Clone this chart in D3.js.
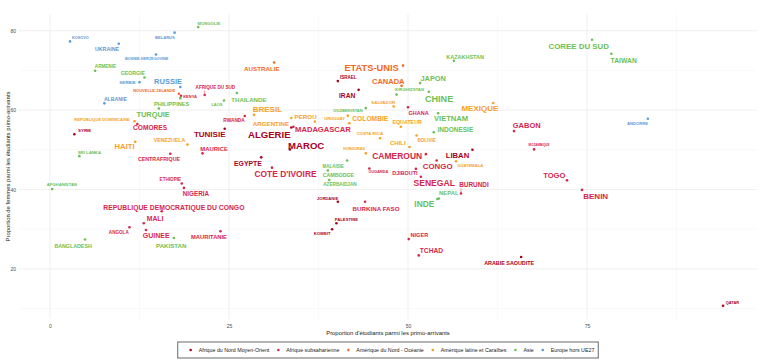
<!DOCTYPE html>
<html>
<head>
<meta charset="utf-8">
<script src="https://cdn.jsdelivr.net/npm/d3@7"></script>
<style>
  html, body { margin: 0; padding: 0; background: #fff; }
  svg { display: block; font-family: "Liberation Sans", Arial, sans-serif; }
</style>
</head>
<body>
<svg id="chart" width="760" height="361"></svg>
<script>
// ---------------- DATA ----------------
const regionNames = ["Afrique du Nord Moyen-Orient", "Afrique subsaharienne", "Amérique du Nord - Océanie",
                     "Amérique latine et Caraïbes", "Asie", "Europe hors UE27"];
const regionCodes = ["NMO", "SS", "AN", "AL", "AS", "EU"];

const countries = ["KOSOVO","UKRAINE","BELARUS","BOSNIE-HERZEGOVINE","ARMENIE","GEORGIE","SERBIE","RUSSIE",
  "NOUVELLE-ZELANDE","KENYA","PHILIPPINES","TURQUIE","ALBANIE","MONGOLIE","REPUBLIQUE DOMINICAINE","COMORES",
  "AFRIQUE DU SUD","THAILANDE","LAOS","AUSTRALIE","ISRAEL","IRAN","BRESIL","RWANDA","ARGENTINE","PEROU",
  "OUZBEKISTAN","URUGUAY","MADAGASCAR","COLOMBIE","ETATS-UNIS","CANADA","KAZAKHSTAN","JAPON","KIRGHIZSTAN",
  "CHINE","SALVADOR","GHANA","MEXIQUE","VIETNAM","EQUATEUR","INDONESIE","GABON","COREE DU SUD","TAIWAN",
  "ANDORRE","MOZAMBIQUE","TOGO","BENIN","QATAR","SYRIE","HAITI","VENEZUELA","SRI LANKA","CENTRAFRIQUE",
  "ETHIOPIE","NIGERIA","AFGHANISTAN","REPUBLIQUE DEMOCRATIQUE DU CONGO","MALI","ANGOLA","GUINEE","BANGLADESH",
  "PAKISTAN","MAURITANIE","TUNISIE","ALGERIE","MAROC","MAURICE","EGYPTE","COTE D'IVOIRE","HONDURAS","MALAISIE",
  "CAMBODGE","AZERBAIDJAN","JORDANIE","BURKINA FASO","PALESTINE","KOWEIT","OUGANDA","COSTA RICA","CHILI",
  "BOLIVIE","CAMEROUN","LIBAN","GUATEMALA","CONGO","DJIBOUTI","SENEGAL","BURUNDI","NEPAL","INDE","NIGER",
  "TCHAD","ARABIE SAOUDITE"];

const regions = ["EU","EU","EU","EU","AS","AS","EU","EU",
  "AN","SS","AS","AS","EU","AS","AL","SS",
  "SS","AS","AS","AN","NMO","NMO","AL","SS","AL","AL",
  "AS","AL","SS","AL","AN","AN","AS","AS","AS",
  "AS","AL","SS","AL","AS","AL","AS","SS","AS","AS",
  "EU","SS","SS","SS","NMO","NMO","AL","AL","AS","SS",
  "SS","SS","AS","SS","SS","SS","SS","AS",
  "AS","SS","NMO","NMO","NMO","SS","NMO","SS","AL","AS",
  "AS","AS","NMO","SS","NMO","NMO","SS","AL","AL",
  "AL","SS","NMO","AL","SS","SS","SS","SS","AS","AS","SS",
  "SS","NMO"];

// Proportion d'étudiants parmi les primo-arrivants (%)
const pctEtudiants = [2.8,9.6,17.4,14.8,6.3,13.2,12.5,18.2,
  18.0,18.3,18.2,15.2,7.6,20.7,11.8,12.2,
  21.6,26.1,24.3,31.3,40.2,43.1,28.5,27.2,33.7,37.0,
  44.1,41.6,34.0,41.8,49.3,49.1,56.4,51.7,48.4,
  52.9,48.0,50.0,61.9,54.2,49.0,53.6,64.8,75.7,78.4,
  83.5,67.6,72.2,74.3,94.0,3.4,11.9,19.2,4.1,16.8,
  18.4,18.7,0.3,15.6,13.1,11.1,13.4,4.9,
  17.3,23.8,24.4,33.7,33.5,21.3,29.5,31.0,44.1,41.5,
  38.8,39.0,40.2,44.0,40.0,39.4,44.6,46.1,50.2,
  51.2,52.5,59.0,56.7,54.0,51.1,51.8,57.4,54.3,54.1,50.1,
  51.5,65.8];

// Proportion de femmes parmi les étudiants primo-arrivants (%)
const pctFemmes = [77.3,76.7,79.5,74.0,69.9,68.2,67.0,65.8,
  64.1,63.6,63.0,60.4,61.7,80.9,57.2,56.5,
  63.8,64.3,62.4,72.0,67.3,65.1,58.8,58.5,58.0,57.1,
  60.5,58.6,55.8,56.7,71.2,66.1,72.4,66.8,63.9,
  64.6,60.9,60.7,61.8,59.2,55.8,54.4,54.7,77.7,74.2,
  57.8,50.1,42.3,39.9,10.7,53.9,52.0,51.3,48.4,49.0,
  41.5,40.4,40.1,34.5,31.5,30.5,29.8,27.4,
  27.8,29.5,55.3,55.6,50.1,49.1,48.1,45.5,49.1,47.3,
  44.8,42.4,36.9,36.9,31.5,30.0,45.3,52.9,50.7,
  53.6,48.9,50.0,47.1,47.3,45.2,43.2,39.0,37.7,37.6,27.5,
  23.4,23.0];

// Nombre d'étudiants primo-arrivants (estimé d'après la taille des étiquettes)
const effectifs = [1800,3300,2100,1800,2600,3200,2400,5500,
  2000,2000,3700,5400,3200,2200,2100,4600,
  2600,4100,2000,4200,2500,4700,6000,2800,4200,4200,
  2150,2200,5600,4700,7300,5500,3500,5400,2300,
  7100,2400,3500,6000,5600,3300,4500,5500,5900,4800,
  2200,1000,5600,6000,1900,2400,5700,3200,2300,3300,
  2600,4300,2200,4800,4800,2600,5000,3300,
  4100,3800,6000,7600,7600,3900,4900,6400,1750,2500,
  3300,2700,2100,4200,2200,2200,1800,2300,4000,
  2600,6500,5700,2100,5900,3400,6600,4400,3900,6400,3600,
  4700,3400];

// Label placement (repel offsets, px)
const labelNudge = [[10.4,-3.6],[-11.7,5.6],[-9.7,5],[-9.3,4.6],[10.3,-4.4],[-11.6,-4.7],[-12,0],[-12.3,-5.7],
  [-24.7,-3.3],[9,0.3],[-8.6,5.7],[-5.7,5.6],[11,-4.3],[10.7,-3.6],[-32.4,-1.3],[12.7,3.7],
  [10.7,-7],[12,6],[-7,4.3],[-12.3,5.7],[10.3,-3.3],[-11.4,5.7],[13.3,-5],[-10.7,4.7],[-20.3,5.7],[-9.3,-4.7],
  [-17.7,2.4],[-13.3,3.3],[29.5,2.3],[21,-4.3],[-31.4,2],[-13.3,-4.7],[11.3,-4.3],[13,-5],[13,-4.7],
  [10.3,7.3],[-10.4,-4.4],[10.6,5.4],[-13.3,5.7],[13,5.4],[6.3,-4.4],[21.6,-3.3],[12.7,-5.3],[-13.3,6.3],[12.3,6.3],
  [-10.4,5],[5,-4.3],[-12.7,-5.3],[13.7,6.3],[9.4,-3.7],[10.3,-3.6],[-10.7,5],[-18,-4.4],[10,-3.3],[-11.3,5.6],
  [-11.4,-3.7],[12,5.3],[9.7,-4.3],[12.2,-4],[11.3,-4.3],[-10.7,5.4],[10.3,5.7],[-12,6.3],
  [-2.7,8],[-11.4,5.7],[-15,6],[-22,6.5],[16.3,-3.6],[11.6,-4],[-13.3,6],[13.6,6],[-11.7,-4],[-14,5.6],
  [10.6,4.7],[10.7,5],[-10.3,-3.3],[11,6.3],[10,-4],[-10,4.7],[9,4],[-10.2,-4.3],[-11.6,-3.7],
  [10,5.3],[-28.7,1.7],[-15,6],[14.3,4],[1,6],[-11,4.6],[13.3,6.3],[13,-8.6],[10,-5.4],[-13,5],[10.6,-4.3],
  [12.7,-4.6],[-12,5.7]];

const leaderLines = ["AFRIQUE DU SUD", "BURUNDI"];

const xTicks = [0, 25, 50, 75];
const yTicks = [20, 40, 60, 80];
const xMinor = [12.5, 37.5, 62.5, 87.5];
const yMinor = [10, 30, 50, 70];

const regionColors = ["#a8001f", "#d6264b", "#f26a1f", "#f8a11f", "#6cbf55", "#5b9bd5"];

// ---------------- CHART ----------------
const svg = d3.select("#chart");
const panel = {left: 19, right: 757, top: 14, bottom: 319};

const x = d3.scaleLinear().domain([-4.33, 98.74]).range([panel.left, panel.right]);
const y = d3.scaleLinear().domain([7.38, 84.2]).range([panel.bottom, panel.top]);
const fontSize = d3.scaleLinear().domain([0, 8000]).range([2, 10]);
const color = d3.scaleOrdinal().domain(regionCodes).range(regionColors);

const data = countries.map((c, i) => ({
  name: c, region: regions[i], px: pctEtudiants[i], py: pctFemmes[i],
  eff: effectifs[i], nudge: labelNudge[i]
}));

// grid
const grid = svg.append("g");
grid.selectAll(".xm").data(xMinor).join("line")
  .attr("x1", d => x(d)).attr("x2", d => x(d)).attr("y1", panel.top).attr("y2", panel.bottom)
  .attr("stroke", "#f2f2f2").attr("stroke-width", 0.5);
grid.selectAll(".ym").data(yMinor).join("line")
  .attr("y1", d => y(d)).attr("y2", d => y(d)).attr("x1", panel.left).attr("x2", panel.right)
  .attr("stroke", "#f2f2f2").attr("stroke-width", 0.5);
grid.selectAll(".xM").data(xTicks).join("line")
  .attr("x1", d => x(d)).attr("x2", d => x(d)).attr("y1", panel.top).attr("y2", panel.bottom)
  .attr("stroke", "#e8e8e8").attr("stroke-width", 0.7);
grid.selectAll(".yM").data(yTicks).join("line")
  .attr("y1", d => y(d)).attr("y2", d => y(d)).attr("x1", panel.left).attr("x2", panel.right)
  .attr("stroke", "#e8e8e8").attr("stroke-width", 0.7);

// axes (no lines, labels only)
const xAxis = svg.append("g").attr("transform", `translate(0,${panel.bottom})`)
  .call(d3.axisBottom(x).tickValues(xTicks).tickSize(0).tickPadding(5));
const yAxis = svg.append("g").attr("transform", `translate(${panel.left},0)`)
  .call(d3.axisLeft(y).tickValues(yTicks).tickSize(0).tickPadding(3));
[xAxis, yAxis].forEach(a => {
  a.select(".domain").remove();
  a.selectAll("text").attr("font-size", 5).attr("fill", "#4d4d4d")
    .attr("font-family", "Liberation Sans, Arial, sans-serif");
});

// axis titles
svg.append("text").attr("x", (panel.left + panel.right) / 2).attr("y", 334.5)
  .attr("text-anchor", "middle").attr("font-size", 5.9).attr("fill", "#1a1a1a")
  .text("Proportion d'étudiants parmi les primo-arrivants");
svg.append("text").attr("transform", `translate(9.5,${(panel.top + panel.bottom) / 2}) rotate(-90)`)
  .attr("text-anchor", "middle").attr("font-size", 5.9).attr("fill", "#1a1a1a")
  .text("Proportion de femmes parmi les étudiants primo-arrivants");

// leader segments
const segG = svg.append("g");
// points
svg.append("g").selectAll("circle").data(data).join("circle")
  .attr("cx", d => x(d.px)).attr("cy", d => y(d.py)).attr("r", 1.3)
  .attr("fill", d => color(d.region));

// labels
const labG = svg.append("g");
labG.selectAll("text").data(data).join("text")
  .attr("x", d => x(d.px) + d.nudge[0])
  .attr("y", d => y(d.py) + d.nudge[1])
  .attr("text-anchor", "middle").attr("dominant-baseline", "central")
  .attr("font-weight", "bold").attr("font-size", d => fontSize(d.eff))
  .attr("fill", d => color(d.region))
  .text(d => d.name)
  .each(function(d) {
    if (leaderLines.includes(d.name)) {
      const b = this.getBBox();
      const px = x(d.px), py = y(d.py);
      const tx = Math.max(b.x, Math.min(px, b.x + b.width));
      const ty = Math.max(b.y, Math.min(py, b.y + b.height));
      segG.append("line").attr("x1", px).attr("y1", py).attr("x2", tx).attr("y2", ty)
        .attr("stroke", color(d.region)).attr("stroke-width", 0.5);
    }
  });

// legend
const leg = svg.append("g");
const box = leg.append("rect").attr("fill", "#fff").attr("stroke", "#8c8c8c").attr("stroke-width", 1.3);
let cx = 0;
const items = [];
regionNames.forEach((r, i) => {
  const g = leg.append("g");
  g.append("circle").attr("cx", cx).attr("cy", 0).attr("r", 1.3).attr("fill", regionColors[i]);
  const t = g.append("text").attr("x", cx + 8).attr("y", 0).attr("dominant-baseline", "central")
    .attr("font-size", 5.3).attr("fill", "#1a1a1a").text(r);
  const w = t.node().getComputedTextLength();
  cx = cx + 8 + w + 9;
  items.push(g);
});
const contentW = cx - 9;
const padL = 13, padR = 4;
const boxW = padL + contentW + padR;
const boxX = 388 - boxW / 2;
box.attr("x", boxX).attr("y", 342).attr("width", boxW).attr("height", 16);
leg.selectAll("g").attr("transform", `translate(${boxX + padL},350)`);
</script>
</body>
</html>
